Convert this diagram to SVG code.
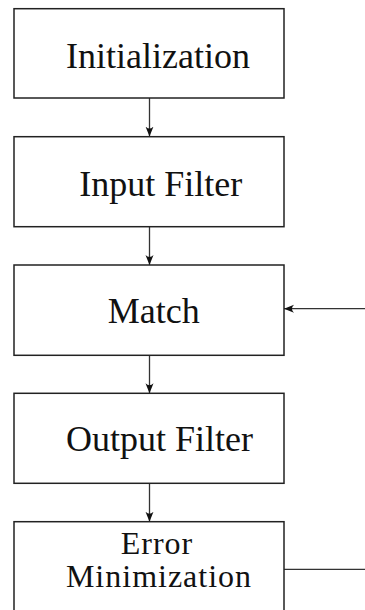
<svg xmlns="http://www.w3.org/2000/svg" width="365" height="610" viewBox="0 0 365 610">
  <style>
    .box { fill: #ffffff; stroke: #222222; stroke-width: 1.5; }
    .lbl { font-family: "Liberation Serif", "DejaVu Serif", serif; font-size: 36px; fill: #111111; text-anchor: middle; }
    .lbl-sm { font-size: 32px; letter-spacing: 1px; }
    .edge { fill: none; stroke: #333333; stroke-width: 1.3; }
  </style>
  <defs>
    <marker id="head" viewBox="0 0 10 10" refX="10" refY="5" markerWidth="10" markerHeight="10" markerUnits="userSpaceOnUse" orient="auto">
      <path d="M0,1 Q4,5 0,9 L10,5 Z" fill="#111111"/>
    </marker>
  </defs>
  <rect width="365" height="610" fill="#ffffff"/>

  <g id="connectors">
    <line class="edge" x1="149.5" y1="98" x2="149.5" y2="136.5" marker-end="url(#head)"/>
    <line class="edge" x1="149.5" y1="226.7" x2="149.5" y2="265" marker-end="url(#head)"/>
    <line class="edge" x1="149.5" y1="355.3" x2="149.5" y2="393.3" marker-end="url(#head)"/>
    <line class="edge" x1="149.5" y1="483.3" x2="149.5" y2="521.7" marker-end="url(#head)"/>
    <line class="edge" x1="365" y1="308.7" x2="284" y2="308.7" marker-end="url(#head)"/>
    <line class="edge" x1="284" y1="569.3" x2="365" y2="569.3"/>
  </g>

  <g id="initialization">
    <rect class="box" x="14" y="8.7" width="270" height="89.3"/>
    <text class="lbl" x="158" y="68.3">Initialization</text>
  </g>
  <g id="input-filter">
    <rect class="box" x="14" y="136.7" width="270" height="90"/>
    <text class="lbl" x="160.8" y="196">Input Filter</text>
  </g>
  <g id="match">
    <rect class="box" x="14" y="265" width="270" height="90.3"/>
    <text class="lbl" x="153.7" y="322.7">Match</text>
  </g>
  <g id="output-filter">
    <rect class="box" x="14" y="393.3" width="270" height="90"/>
    <text class="lbl" x="159.5" y="450.7">Output Filter</text>
  </g>
  <g id="error-minimization">
    <rect class="box" x="14" y="521.7" width="270" height="100"/>
    <text class="lbl lbl-sm" x="157" y="554">Error</text>
    <text class="lbl lbl-sm" x="159" y="586.7">Minimization</text>
  </g>
</svg>
